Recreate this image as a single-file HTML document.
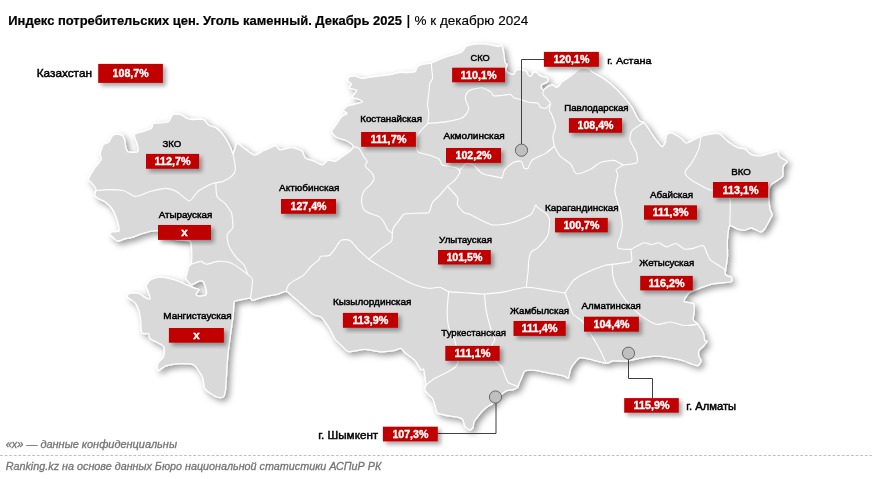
<!DOCTYPE html>
<html><head><meta charset="utf-8"><style>html,body{margin:0;padding:0;background:#fff;}svg{display:block;will-change:transform;}</style></head><body>
<svg width="872" height="479" viewBox="0 0 872 479">
<defs>
<filter id="msh" x="-10%" y="-10%" width="120%" height="120%"><feGaussianBlur in="SourceAlpha" stdDeviation="3"/><feOffset dx="2.5" dy="2.5" result="b"/><feFlood flood-color="#000" flood-opacity="0.4"/><feComposite in2="b" operator="in"/><feMerge><feMergeNode/><feMergeNode in="SourceGraphic"/></feMerge></filter>
<filter id="bsh" x="-20%" y="-30%" width="140%" height="170%"><feGaussianBlur in="SourceAlpha" stdDeviation="2"/><feOffset dx="2.5" dy="2.5" result="b"/><feFlood flood-color="#000" flood-opacity="0.35"/><feComposite in2="b" operator="in"/><feMerge><feMergeNode/><feMergeNode in="SourceGraphic"/></feMerge></filter>
</defs>
<rect width="872" height="479" fill="#fff"/>
<path d="M88.4,179.2C88.9,177.7 92.7,171.2 94.2,168.9C95.7,166.6 100.4,161.4 101.1,159.7C101.8,157.9 99.9,155.7 100.2,153.9C100.5,152.1 102.4,145.8 103.4,144.5C104.4,143.2 107.6,143.4 108.6,142.4C109.6,141.4 111.5,137.0 112.2,136.1C112.9,135.2 113.4,134.7 114.3,134.5C115.2,134.3 119.1,134.3 120.1,134.5C121.1,134.7 122.2,135.4 122.7,136.1C123.2,136.8 124.4,139.0 124.8,140.3C125.2,141.6 125.4,146.3 125.8,147.6C126.2,148.9 127.1,151.3 127.9,151.8C128.7,152.3 131.4,152.3 132.6,152.3C133.8,152.3 137.3,152.7 137.8,151.8C138.3,150.9 137.7,146.2 137.3,144.5C136.9,142.8 134.9,138.5 134.7,137.2C134.5,135.9 134.3,134.1 135.2,133.5C136.1,132.9 140.1,132.5 142.0,131.9C143.9,131.3 150.1,129.3 151.4,128.3C152.7,127.3 152.3,124.2 153.0,123.6C153.7,123.0 155.9,123.3 157.7,123.1C159.5,122.9 166.4,122.9 168.1,122.0C169.8,121.1 171.5,116.1 172.3,115.2C173.1,114.3 173.9,114.2 175.0,114.2C176.1,114.2 180.0,114.4 181.4,114.9C182.8,115.4 185.9,117.9 187.2,118.4C188.5,118.9 191.0,119.4 192.9,119.5C194.8,119.6 201.4,118.8 203.3,119.5C205.2,120.2 207.5,124.4 209.0,125.3C210.5,126.2 214.3,126.5 215.9,127.6C217.5,128.7 221.5,132.8 222.8,134.4C224.1,136.0 226.5,139.7 227.4,141.3C228.3,142.9 230.1,146.7 230.8,148.2C231.5,149.7 232.6,154.1 233.1,154.0C233.6,153.9 234.9,148.3 235.4,147.1C235.9,145.9 236.5,143.3 237.7,143.6C238.9,143.9 243.7,148.1 245.7,149.4C247.7,150.7 252.8,155.0 254.9,155.1C257.0,155.2 261.7,151.6 264.1,150.5C266.5,149.4 273.7,146.0 275.6,145.9C277.5,145.8 278.1,149.7 280.0,149.9C281.9,150.1 289.0,147.5 291.5,147.6C294.0,147.7 300.2,149.8 301.8,151.0C303.4,152.2 303.8,156.7 305.3,157.9C306.8,159.1 312.4,160.5 314.4,161.3C316.4,162.1 320.9,164.9 322.5,164.8C324.1,164.7 326.7,160.6 328.2,160.2C329.7,159.8 333.5,161.7 335.1,161.3C336.7,160.9 340.4,157.8 342.0,156.7C343.6,155.6 347.6,153.3 348.9,152.1C350.2,150.9 353.8,147.7 353.5,146.4C353.2,145.1 348.6,141.8 346.6,140.7C344.6,139.6 338.0,138.3 336.3,137.2C334.6,136.1 331.7,132.8 331.7,131.4C331.7,130.0 334.9,126.8 336.1,125.0C337.3,123.2 340.6,117.7 341.9,116.4C343.2,115.1 346.8,114.2 347.0,113.5C347.2,112.8 343.4,111.4 343.4,110.5C343.4,109.6 345.6,107.0 347.0,106.2C348.4,105.4 353.3,104.5 355.1,104.0C356.9,103.5 362.1,102.4 362.4,101.8C362.7,101.2 359.2,99.3 358.0,98.8C356.8,98.3 352.5,98.1 352.2,97.4C351.9,96.7 354.6,93.9 355.1,93.0C355.6,92.1 357.2,90.7 356.5,90.1C355.8,89.5 349.8,88.6 349.2,87.9C348.6,87.2 351.6,85.1 351.4,84.2C351.2,83.3 348.1,81.5 347.8,80.6C347.5,79.7 348.3,77.4 349.2,76.9C350.1,76.4 353.6,76.0 355.1,76.2C356.6,76.4 360.4,78.3 362.4,78.4C364.4,78.5 370.2,77.2 372.6,76.9C375.0,76.6 380.4,75.8 382.8,75.5C385.2,75.2 391.2,74.3 393.1,74.0C395.0,73.7 397.2,72.7 398.9,72.5C400.6,72.3 405.8,72.6 407.7,72.5C409.6,72.4 413.9,72.4 415.0,71.8C416.1,71.2 416.3,68.3 417.2,67.4C418.1,66.5 420.6,65.0 422.3,64.5C424.0,64.0 429.1,63.8 431.5,63.0C433.9,62.2 439.5,59.3 443.0,58.0C446.5,56.7 458.6,53.5 461.3,52.2C464.0,50.9 464.3,47.4 465.9,46.5C467.5,45.6 472.7,44.5 475.1,44.2C477.5,43.9 483.9,43.9 486.6,44.2C489.3,44.5 496.4,46.4 498.1,46.5C499.8,46.6 500.8,44.5 501.5,45.3C502.2,46.1 503.4,51.4 503.8,53.4C504.2,55.4 504.6,61.3 505.0,62.6C505.4,63.9 506.8,63.8 506.9,64.6C507.0,65.4 505.6,68.3 505.7,69.2C505.8,70.1 507.1,72.0 508.0,72.6C508.9,73.2 512.9,74.6 513.8,74.3C514.7,74.0 515.3,70.8 516.1,70.3C516.9,69.8 519.8,69.7 520.6,69.7C521.4,69.7 522.2,70.1 522.9,70.3C523.6,70.5 525.8,71.0 526.4,71.5C527.0,72.0 527.6,74.4 528.1,74.9C528.6,75.4 530.4,76.4 531.0,76.1C531.6,75.8 532.6,73.0 533.3,72.6C534.0,72.2 536.0,72.3 536.7,72.6C537.4,72.9 538.3,74.4 539.0,74.9C539.7,75.4 541.5,76.3 542.4,76.6C543.3,76.9 546.3,77.3 547.0,77.8C547.7,78.3 548.3,80.0 548.2,80.6C548.1,81.2 546.6,82.4 545.9,82.9C545.2,83.4 542.4,84.2 541.9,84.7C541.4,85.2 541.1,86.9 541.3,87.5C541.5,88.1 542.8,89.9 543.6,89.8C544.4,89.7 547.1,86.9 548.2,86.4C549.3,85.9 551.9,85.1 552.8,85.2C553.7,85.3 555.4,87.5 556.2,87.5C557.0,87.5 558.9,85.9 559.6,85.2C560.3,84.5 561.0,82.6 561.9,81.8C562.8,81.0 566.4,79.2 567.7,78.3C569.0,77.4 572.1,74.9 573.4,73.8C574.7,72.7 578.0,69.9 579.1,69.2C580.2,68.5 581.4,68.0 582.6,68.0C583.8,68.0 588.3,68.8 589.4,69.2C590.5,69.6 590.8,70.8 591.7,71.5C592.6,72.2 596.1,74.1 597.5,74.9C598.9,75.7 602.0,77.4 603.7,78.6C605.4,79.8 609.7,83.0 612.0,85.0C614.3,87.0 620.7,93.5 623.0,96.1C625.3,98.7 630.5,105.2 632.1,107.6C633.7,110.0 635.8,115.1 636.7,116.7C637.6,118.3 639.4,120.6 640.2,121.3C641.0,122.0 642.7,121.7 643.6,122.5C644.5,123.3 646.9,126.3 648.2,128.2C649.5,130.1 653.5,136.5 655.1,138.6C656.7,140.7 660.8,146.2 662.0,146.6C663.2,147.0 664.9,143.3 665.4,142.0C665.9,140.7 665.9,136.2 666.6,135.1C667.3,134.0 669.9,132.7 671.2,132.8C672.5,132.9 676.8,135.5 678.1,136.3C679.4,137.1 681.8,138.9 682.7,139.7C683.6,140.5 685.0,143.0 686.1,143.1C687.2,143.2 690.1,141.6 691.8,140.8C693.5,140.0 698.9,137.1 701.0,136.3C703.1,135.5 708.1,134.3 710.2,134.0C712.3,133.7 717.3,133.1 719.4,134.0C721.5,134.9 726.5,140.4 728.6,142.0C730.7,143.6 735.9,146.9 737.8,147.7C739.7,148.5 743.1,148.1 744.7,148.9C746.3,149.7 749.6,153.8 751.5,154.6C753.4,155.4 758.0,156.1 760.7,155.8C763.4,155.5 772.4,152.6 774.4,152.1C776.4,151.6 777.1,151.2 777.6,151.6C778.1,152.0 778.1,154.4 778.6,155.2C779.1,156.0 780.7,157.6 781.7,158.3C782.7,159.0 786.8,160.6 787.0,161.5C787.2,162.4 784.3,164.5 783.8,165.6C783.3,166.7 782.9,169.7 782.8,170.9C782.7,172.1 783.4,175.0 782.8,176.1C782.2,177.2 778.9,179.3 777.6,180.3C776.3,181.3 772.3,183.5 771.3,184.5C770.3,185.5 769.5,187.1 769.2,188.6C768.9,190.1 768.7,195.2 768.8,197.6C768.9,200.0 769.5,207.0 769.9,209.0C770.3,211.0 772.2,213.6 772.2,214.8C772.2,216.0 770.7,217.9 769.9,219.4C769.1,220.9 766.4,226.5 765.3,228.0C764.2,229.5 762.3,231.9 760.7,231.9C759.1,231.9 753.4,228.2 751.5,228.0C749.6,227.8 746.3,230.2 744.7,230.3C743.1,230.4 739.5,229.7 737.8,229.2C736.0,228.7 730.9,224.6 729.7,225.7C728.5,226.8 727.7,235.2 727.4,238.9C727.1,242.6 727.6,253.2 727.4,257.3C727.2,261.4 724.9,271.5 725.3,273.8C725.7,276.1 730.4,276.3 731.1,277.2C731.8,278.1 732.3,281.1 731.1,281.8C729.9,282.5 723.0,282.7 720.7,283.0C718.4,283.3 714.4,283.3 711.5,284.1C708.6,284.9 698.2,288.8 695.5,289.9C692.8,291.0 689.9,292.0 688.6,293.3C687.3,294.6 683.5,300.1 684.0,301.3C684.5,302.5 692.0,302.5 693.2,303.6C694.4,304.7 694.3,308.6 694.3,310.5C694.3,312.4 692.8,318.1 693.2,319.7C693.6,321.3 696.6,322.7 697.8,324.3C699.0,325.9 702.7,331.6 703.5,333.5C704.3,335.4 704.3,339.5 704.7,340.4C705.1,341.3 707.1,340.8 707.0,341.5C706.9,342.2 704.4,345.0 703.5,346.1C702.6,347.2 699.4,349.5 698.9,350.7C698.4,351.9 698.6,355.2 698.9,356.4C699.2,357.6 701.3,359.9 701.2,361.0C701.1,362.1 698.7,365.2 697.8,365.6C696.9,366.0 694.8,365.0 693.2,364.5C691.6,364.0 686.1,361.7 684.0,361.0C681.9,360.3 677.5,359.2 674.8,358.7C672.1,358.2 663.7,356.7 661.0,356.4C658.3,356.1 654.5,356.1 651.8,356.4C649.1,356.7 641.0,358.2 638.1,358.7C635.2,359.2 629.6,360.7 626.6,361.0C623.6,361.3 615.2,360.7 612.8,361.0C610.4,361.3 608.8,363.6 605.9,363.3C603.0,363.0 590.6,359.4 587.6,358.7C584.6,358.0 581.4,357.2 580.0,357.6C578.6,358.0 576.3,360.8 575.2,362.1C574.1,363.4 571.4,367.1 570.6,369.0C569.8,370.9 569.1,377.4 568.3,378.2C567.5,379.0 565.6,376.4 563.7,375.9C561.8,375.4 554.9,374.1 552.2,373.6C549.5,373.1 543.1,371.7 540.7,371.3C538.3,370.9 533.4,370.2 531.5,370.2C529.6,370.2 525.8,370.6 524.7,371.3C523.6,372.0 523.1,374.4 522.4,375.9C521.7,377.4 519.4,382.7 518.9,384.0C518.4,385.3 518.5,386.7 517.8,387.4C517.1,388.1 514.5,389.3 513.2,389.7C511.9,390.1 507.6,390.3 506.3,390.8C505.0,391.3 502.8,393.4 501.7,394.3C500.6,395.2 498.2,397.8 497.1,398.9C496.0,400.0 493.8,402.4 492.5,403.5C491.2,404.6 486.9,407.0 485.6,408.1C484.3,409.2 482.3,411.1 481.0,412.7C479.7,414.3 475.0,420.1 474.1,421.8C473.2,423.5 473.5,426.7 473.0,427.6C472.5,428.5 470.5,430.0 469.6,429.9C468.7,429.8 465.8,427.6 465.0,426.4C464.2,425.2 463.5,420.7 462.7,419.6C461.9,418.5 460.2,417.8 458.1,417.3C456.0,416.8 446.7,415.5 444.3,415.0C441.9,414.5 438.5,413.8 437.4,412.7C436.3,411.6 435.6,407.4 435.1,405.8C434.6,404.2 433.6,400.2 432.8,398.9C432.0,397.6 429.1,395.4 428.2,394.3C427.3,393.2 425.1,390.8 424.8,389.7C424.5,388.6 425.9,386.7 425.9,385.1C425.9,383.5 425.1,377.8 424.8,375.9C424.5,374.0 424.0,369.7 423.6,369.0C423.2,368.3 421.8,370.5 421.3,370.2C420.8,369.9 419.8,367.9 419.0,366.7C418.2,365.5 416.0,361.5 414.4,359.9C412.8,358.3 406.9,354.3 405.3,353.0C403.7,351.7 402.0,348.7 400.7,348.4C399.4,348.1 396.2,350.3 393.8,350.7C391.4,351.1 383.4,352.0 380.0,351.8C376.6,351.6 368.5,349.4 364.8,349.4C361.1,349.4 351.4,352.1 348.7,351.7C346.0,351.3 343.4,347.4 341.8,345.9C340.2,344.4 336.3,340.9 335.0,339.0C333.7,337.1 331.5,331.8 330.4,329.9C329.3,328.0 326.9,324.5 325.8,323.0C324.7,321.5 322.6,318.2 321.2,317.2C319.8,316.2 315.9,316.1 313.7,314.7C311.5,313.3 305.0,307.2 302.6,305.1C300.2,303.0 294.9,298.4 293.0,296.8C291.1,295.2 287.9,291.6 286.1,291.3C284.3,291.0 280.5,293.5 277.9,294.1C275.3,294.7 267.0,296.1 264.0,296.8C261.0,297.5 254.0,300.1 252.4,300.3C250.8,300.5 252.3,298.1 250.3,298.2C248.3,298.3 237.1,300.2 235.2,301.0C233.3,301.8 234.0,303.4 233.8,305.1C233.6,306.9 233.3,314.3 233.1,316.0C232.9,317.7 233.1,315.5 232.5,320.0C231.9,324.5 228.7,346.4 227.9,354.4C227.1,362.4 226.1,383.9 225.6,388.9C225.1,393.9 224.4,396.0 223.3,396.9C222.2,397.8 218.5,397.8 216.4,396.9C214.3,396.0 206.6,391.2 205.0,388.9C203.4,386.6 204.0,380.2 202.7,377.4C201.4,374.6 196.2,366.4 193.5,364.8C190.8,363.2 182.9,363.5 179.7,363.6C176.5,363.7 168.4,365.1 165.9,365.9C163.4,366.7 158.8,370.8 157.9,370.5C157.0,370.2 157.2,365.2 157.9,363.6C158.6,362.0 162.9,358.7 163.6,356.7C164.3,354.7 165.2,348.5 163.6,346.4C162.0,344.3 151.6,339.9 149.9,338.4C148.2,336.9 149.6,334.5 148.7,333.8C147.8,333.1 142.7,334.2 141.8,332.6C140.9,331.0 141.0,322.6 140.7,320.0C140.3,317.4 139.5,312.0 138.8,310.0C138.1,308.0 136.3,304.2 135.0,302.7C133.7,301.2 128.2,298.2 127.5,297.1C126.8,296.0 128.1,293.7 129.4,293.3C130.7,292.9 137.1,292.9 138.8,293.3C140.6,293.7 143.1,296.4 144.4,297.1C145.7,297.8 149.7,299.6 150.1,298.9C150.5,298.2 148.6,292.9 148.2,291.4C147.8,289.9 146.1,287.1 146.3,285.8C146.5,284.5 148.8,281.2 150.1,280.2C151.4,279.2 155.4,277.5 157.6,277.3C159.8,277.1 166.3,277.8 168.9,278.3C171.5,278.8 177.4,280.9 180.2,282.0C183.0,283.1 191.1,286.8 193.3,287.7C195.5,288.6 198.6,288.7 198.9,289.5C199.2,290.3 196.1,293.4 196.1,294.2C196.1,295.0 197.8,296.0 198.9,296.1C200.0,296.2 204.6,295.7 205.5,295.2C206.4,294.7 206.7,292.9 206.5,291.4C206.3,289.9 204.5,283.2 203.6,282.0C202.7,280.8 200.4,280.8 199.0,281.1C197.6,281.4 192.9,285.1 191.4,284.8C189.9,284.5 186.3,279.5 185.8,278.3C185.3,277.1 186.4,275.8 186.7,274.5C187.0,273.2 188.1,268.3 188.6,267.0C189.1,265.7 191.1,265.6 191.4,263.2C191.7,260.8 191.6,248.9 191.4,246.3C191.2,243.7 191.2,241.5 189.5,240.7C187.8,239.9 179.8,240.8 176.4,239.7C173.0,238.6 162.9,232.0 160.0,231.0C157.1,230.0 154.1,230.9 151.9,231.2C149.7,231.5 143.6,233.2 141.3,233.9C139.0,234.6 134.2,236.9 132.4,237.4C130.6,237.9 127.7,238.1 126.0,238.5C124.3,238.9 119.2,241.1 117.9,241.1C116.6,241.1 115.4,239.7 114.5,238.9C113.6,238.1 110.2,235.1 109.9,234.3C109.6,233.5 111.1,232.4 112.2,232.0C113.3,231.6 118.4,231.9 119.1,230.8C119.8,229.7 118.3,224.5 117.9,222.8C117.5,221.1 116.3,217.5 115.6,215.9C114.9,214.3 113.4,210.6 112.2,209.0C111.0,207.4 106.9,203.3 105.3,202.1C103.7,200.9 99.6,199.4 98.4,198.6C97.2,197.8 95.2,196.3 94.9,195.2C94.6,194.1 96.1,190.3 96.1,189.4C96.1,188.5 95.6,188.0 94.9,187.1C94.2,186.2 91.1,182.3 90.3,181.4C89.5,180.5 87.9,180.7 88.4,179.2Z" fill="#d9d9d9" stroke="#fff" stroke-width="1.3" stroke-linejoin="round" filter="url(#msh)"/>
<path d="M95.3,190.7C96.8,190.6 104.7,189.6 108.0,189.6C111.3,189.6 120.8,189.9 124.0,190.7C127.2,191.5 132.5,196.3 135.5,196.4C138.5,196.5 145.8,192.7 149.3,191.8C152.8,190.9 162.2,188.4 165.4,188.4C168.6,188.4 174.0,190.3 176.8,191.8C179.6,193.3 187.1,201.0 189.5,201.0C191.9,201.0 195.2,193.7 197.5,191.8C199.8,189.9 206.9,186.1 209.0,185.0C211.1,183.9 215.1,183.0 215.9,182.7" fill="none" stroke="#fff" stroke-width="1.1" stroke-linejoin="round" stroke-linecap="round"/>
<path d="M233.1,154.0C233.4,155.7 235.5,166.4 235.4,168.9C235.3,171.4 233.5,174.3 232.0,175.8C230.5,177.3 224.7,180.7 222.8,181.5C220.9,182.3 216.7,182.6 215.9,182.7" fill="none" stroke="#fff" stroke-width="1.1" stroke-linejoin="round" stroke-linecap="round"/>
<path d="M215.9,182.7C216.0,184.3 215.9,194.0 217.0,196.4C218.1,198.8 223.6,201.7 225.1,203.3C226.6,204.9 228.9,208.8 229.7,210.0C230.5,211.2 231.3,211.3 231.7,213.3C232.1,215.3 233.3,225.0 232.8,227.5C232.3,230.0 227.5,232.8 227.1,235.0C226.7,237.2 227.9,243.7 229.0,246.3C230.1,248.9 234.7,255.4 236.5,257.6C238.3,259.8 242.8,263.1 244.1,265.1C245.4,267.1 247.4,273.4 247.8,274.5" fill="none" stroke="#fff" stroke-width="1.1" stroke-linejoin="round" stroke-linecap="round"/>
<path d="M191.4,264.2C192.5,263.9 199.0,261.4 200.8,261.4C202.6,261.4 204.5,264.2 206.5,264.2C208.5,264.2 215.1,261.6 217.7,261.4C220.3,261.2 226.8,261.8 229.0,262.3C231.2,262.8 234.3,264.7 236.5,266.1C238.7,267.5 246.5,273.5 247.8,274.5" fill="none" stroke="#fff" stroke-width="1.1" stroke-linejoin="round" stroke-linecap="round"/>
<path d="M247.8,274.5C248.3,275.0 251.9,277.1 252.4,278.9C252.9,280.7 251.9,287.6 251.7,289.9C251.5,292.2 250.5,297.2 250.3,298.2" fill="none" stroke="#fff" stroke-width="1.1" stroke-linejoin="round" stroke-linecap="round"/>
<path d="M286.1,291.3C286.4,290.5 287.6,285.8 288.9,284.4C290.2,283.0 295.3,280.0 297.1,278.9C298.9,277.8 302.4,276.2 304.0,274.8C305.6,273.4 309.1,268.3 310.9,266.5C312.7,264.7 318.1,260.8 319.2,259.6C320.3,258.4 319.4,256.7 320.6,256.2C321.8,255.7 327.7,256.3 329.4,255.4C331.1,254.5 333.7,250.6 335.0,248.8C336.3,247.1 338.9,241.4 340.7,240.4C342.4,239.4 348.0,239.4 350.0,240.4C352.0,241.4 355.4,246.6 357.6,248.8C359.8,251.0 367.5,258.0 368.8,259.2" fill="none" stroke="#fff" stroke-width="1.1" stroke-linejoin="round" stroke-linecap="round"/>
<path d="M353.5,146.4C354.2,146.7 358.0,147.5 359.2,148.7C360.4,149.9 362.9,155.2 363.8,156.7C364.7,158.2 367.2,160.2 367.3,161.3C367.4,162.4 364.5,164.6 365.0,165.9C365.5,167.2 370.7,171.3 371.8,172.8C372.9,174.3 374.2,177.3 374.1,178.6C374.0,179.9 371.9,182.8 370.7,184.3C369.5,185.8 364.9,189.3 363.8,191.2C362.7,193.1 361.5,198.3 361.5,200.4C361.5,202.5 362.6,208.0 363.8,209.6C365.0,211.2 370.1,213.3 371.8,214.1C373.5,214.9 377.4,215.6 378.7,216.4C380.0,217.2 382.2,219.4 383.3,221.0C384.4,222.6 386.8,228.6 387.9,230.0C388.9,231.4 391.8,232.6 392.3,232.9" fill="none" stroke="#fff" stroke-width="1.1" stroke-linejoin="round" stroke-linecap="round"/>
<path d="M392.3,232.9C392.2,233.9 392.6,239.6 391.4,241.3C390.2,243.1 384.6,245.8 382.0,247.9C379.4,250.0 370.3,257.9 368.8,259.2" fill="none" stroke="#fff" stroke-width="1.1" stroke-linejoin="round" stroke-linecap="round"/>
<path d="M392.3,232.9C392.4,232.4 392.4,229.6 393.2,228.2C394.0,226.8 397.6,222.3 398.9,220.7C400.2,219.1 402.0,215.0 404.5,214.1C407.0,213.2 417.2,213.3 420.0,213.1C422.8,212.9 427.3,213.7 428.8,212.5C430.2,211.3 431.2,204.5 432.5,202.5C433.8,200.5 438.2,196.9 440.0,195.0C441.8,193.1 445.8,188.0 447.5,186.2C449.2,184.5 453.5,181.6 455.0,180.0C456.5,178.4 459.4,173.4 460.0,172.5" fill="none" stroke="#fff" stroke-width="1.1" stroke-linejoin="round" stroke-linecap="round"/>
<path d="M368.8,259.2C370.3,260.2 378.5,265.5 382.0,267.6C385.5,269.7 395.2,275.0 398.9,277.0C402.6,279.0 410.4,283.2 413.9,284.5C417.4,285.8 425.9,288.0 428.9,288.3C431.9,288.6 437.7,286.9 440.0,287.3C442.3,287.7 445.2,290.9 448.7,291.6C452.2,292.3 465.4,292.8 469.6,293.1C473.8,293.4 480.3,294.2 484.5,294.0C488.7,293.8 500.5,292.4 505.4,291.6C510.3,290.8 521.4,287.4 526.3,287.2C531.2,287.0 542.7,289.4 547.2,290.1C551.7,290.8 562.9,292.7 565.0,293.0" fill="none" stroke="#fff" stroke-width="1.1" stroke-linejoin="round" stroke-linecap="round"/>
<path d="M427.7,123.4C426.5,124.8 418.7,131.9 417.5,135.1C416.3,138.3 416.2,148.9 417.5,151.2C418.8,153.5 426.3,154.1 428.8,155.0C431.2,155.9 437.1,157.6 438.8,158.8C440.4,159.9 440.6,164.0 442.5,165.0C444.4,166.0 453.1,167.0 455.0,167.5C456.9,168.0 458.2,168.8 458.8,169.4C459.3,170.0 459.9,172.1 460.0,172.5" fill="none" stroke="#fff" stroke-width="1.1" stroke-linejoin="round" stroke-linecap="round"/>
<path d="M431.5,63.0C431.5,63.8 431.7,67.8 431.8,69.6C431.9,71.4 432.8,76.7 432.5,78.4C432.2,80.1 430.0,82.5 429.6,84.2C429.2,85.9 429.2,90.6 428.9,93.0C428.6,95.4 427.4,102.3 427.4,104.7C427.4,107.1 428.9,111.3 428.9,113.5C428.9,115.7 427.8,122.2 427.7,123.4" fill="none" stroke="#fff" stroke-width="1.1" stroke-linejoin="round" stroke-linecap="round"/>
<path d="M427.7,123.4C429.8,123.2 441.2,122.6 445.3,121.9C449.4,121.2 460.1,119.0 462.8,117.5C465.5,116.0 468.4,110.8 468.7,108.8C469.0,106.8 466.0,101.6 465.7,100.0C465.4,98.4 465.3,95.9 465.9,94.7C466.5,93.5 468.6,90.9 470.5,90.1C472.4,89.3 479.6,87.5 482.0,87.8C484.4,88.1 489.9,91.5 491.2,92.4C492.5,93.3 492.5,95.4 493.5,95.8C494.5,96.2 498.0,95.8 500.0,95.6C502.0,95.4 508.7,94.1 510.3,94.4C511.9,94.7 512.6,97.2 513.8,97.8C515.0,98.4 518.7,99.1 520.6,99.6C522.5,100.1 527.8,102.0 529.8,102.4C531.8,102.8 536.6,102.5 537.8,103.0C539.0,103.5 539.2,106.4 540.1,107.0C541.0,107.6 544.7,108.6 545.9,108.2C547.1,107.8 550.0,104.1 550.5,103.6" fill="none" stroke="#fff" stroke-width="1.1" stroke-linejoin="round" stroke-linecap="round"/>
<path d="M543.6,89.8C543.5,90.3 542.5,93.2 543.0,94.4C543.5,95.6 547.3,99.0 548.2,100.1C549.1,101.2 550.4,102.4 550.5,103.6C550.6,104.8 549.1,108.6 549.3,110.0C549.5,111.4 551.3,113.4 552.0,115.4C552.7,117.4 555.4,124.3 555.5,126.8C555.6,129.3 553.0,134.2 552.9,136.5C552.8,138.8 554.1,145.1 554.3,146.2" fill="none" stroke="#fff" stroke-width="1.1" stroke-linejoin="round" stroke-linecap="round"/>
<path d="M460.0,170.0C460.7,169.3 464.6,164.3 466.2,163.8C467.9,163.2 471.9,163.8 473.8,165.0C475.6,166.2 479.4,172.3 482.5,173.8C485.6,175.2 497.6,177.0 499.9,177.5C502.2,178.0 501.4,178.8 502.0,177.9C502.6,177.0 503.4,171.4 504.7,169.6C506.0,167.8 511.1,163.7 513.0,162.7C514.9,161.7 519.9,160.7 521.2,161.3C522.5,161.9 523.2,167.4 524.0,168.2C524.8,169.0 527.1,169.2 528.1,168.2C529.1,167.2 530.2,161.8 532.3,160.0C534.4,158.2 543.4,154.7 546.0,153.1C548.6,151.5 553.3,147.0 554.3,146.2" fill="none" stroke="#fff" stroke-width="1.1" stroke-linejoin="round" stroke-linecap="round"/>
<path d="M447.5,186.2C448.7,187.6 456.3,195.3 457.5,197.5C458.7,199.7 456.8,203.2 457.5,205.0C458.2,206.8 462.3,211.4 463.8,212.5C465.2,213.6 466.8,213.1 470.1,214.5C473.4,215.9 486.9,223.9 491.9,224.8C496.9,225.7 508.1,223.7 512.6,222.5C517.1,221.3 528.2,216.5 530.9,214.5C533.6,212.5 534.7,206.1 535.5,205.3C536.3,204.5 536.5,206.5 537.8,207.6C539.1,208.7 545.7,213.2 547.0,214.5C548.3,215.8 549.0,217.5 549.3,219.0C549.6,220.5 549.5,225.2 549.3,227.2C549.1,229.2 548.6,233.9 547.3,236.3C546.0,238.7 539.7,245.9 537.8,247.8C535.9,249.7 532.0,250.7 530.9,252.3C529.8,253.9 528.9,259.4 528.6,261.5C528.3,263.6 528.5,267.0 528.2,270.0C527.9,273.0 526.5,285.2 526.3,287.2" fill="none" stroke="#fff" stroke-width="1.1" stroke-linejoin="round" stroke-linecap="round"/>
<path d="M554.3,146.2C554.9,147.3 557.9,153.7 559.8,155.8C561.7,157.9 568.9,162.0 570.8,164.1C572.7,166.2 574.1,173.1 576.4,173.7C578.7,174.3 587.3,170.9 590.1,169.6C592.9,168.3 597.2,163.8 600.0,162.7C602.8,161.6 611.1,160.1 613.8,160.4C616.5,160.7 621.9,164.5 623.0,165.0" fill="none" stroke="#fff" stroke-width="1.1" stroke-linejoin="round" stroke-linecap="round"/>
<path d="M643.6,122.5C642.3,123.4 633.7,128.5 632.1,130.5C630.5,132.5 629.6,137.6 629.9,139.7C630.2,141.8 633.6,147.3 634.4,148.9C635.2,150.5 636.4,151.9 636.7,153.5C637.0,155.1 638.3,161.4 636.7,162.7C635.1,164.0 624.6,164.7 623.0,165.0" fill="none" stroke="#fff" stroke-width="1.1" stroke-linejoin="round" stroke-linecap="round"/>
<path d="M623.0,165.0C622.2,165.6 616.7,168.8 616.1,170.0C615.5,171.2 617.8,172.6 617.7,175.1C617.6,177.6 614.6,187.4 614.9,191.6C615.2,195.8 619.5,207.0 620.4,210.9C621.3,214.8 622.3,222.0 622.3,225.0C622.3,228.0 620.9,234.2 620.4,236.3C619.9,238.4 617.8,241.4 617.6,242.8C617.4,244.2 617.0,247.7 618.5,248.5C620.0,249.3 629.4,249.3 630.8,249.4" fill="none" stroke="#fff" stroke-width="1.1" stroke-linejoin="round" stroke-linecap="round"/>
<path d="M630.8,249.4C632.3,248.6 641.5,243.3 643.9,242.8C646.3,242.3 649.6,244.7 651.4,244.7C653.1,244.7 657.1,242.5 658.9,242.8C660.7,243.1 664.6,246.8 666.6,246.9C668.6,247.0 673.7,243.2 675.8,243.5C677.9,243.8 682.9,248.7 685.0,249.2C687.1,249.7 692.0,248.5 694.1,248.1C696.2,247.7 701.4,244.5 703.3,245.8C705.2,247.1 707.8,256.9 710.2,259.6C712.6,262.3 722.2,267.0 724.0,268.7C725.8,270.4 725.1,273.2 725.3,273.8" fill="none" stroke="#fff" stroke-width="1.1" stroke-linejoin="round" stroke-linecap="round"/>
<path d="M630.8,249.4C630.9,250.7 632.4,259.2 631.7,260.7C631.0,262.2 627.4,262.2 625.1,262.6C622.8,263.0 614.4,264.1 612.0,264.4C609.6,264.7 607.3,264.5 604.5,265.4C601.7,266.3 591.1,270.4 587.6,272.0C584.1,273.6 576.6,277.8 574.4,279.5C572.2,281.2 569.9,285.4 568.8,287.0C567.7,288.6 565.4,292.3 565.0,293.0" fill="none" stroke="#fff" stroke-width="1.1" stroke-linejoin="round" stroke-linecap="round"/>
<path d="M565.0,293.0C565.5,294.3 568.1,301.6 569.0,304.0C569.9,306.4 571.4,311.9 573.0,314.0C574.6,316.1 580.8,319.4 583.0,322.0C585.2,324.6 590.0,332.7 592.0,336.0C594.0,339.3 598.4,346.9 600.0,350.0C601.6,353.1 605.3,361.5 606.0,363.0" fill="none" stroke="#fff" stroke-width="1.1" stroke-linejoin="round" stroke-linecap="round"/>
<path d="M612.0,264.4C612.1,265.7 612.5,273.3 612.9,275.7C613.3,278.1 614.7,282.9 615.7,285.1C616.7,287.3 619.9,292.3 621.4,294.5C622.9,296.7 626.7,301.5 628.9,303.9C631.1,306.3 637.2,312.7 640.4,315.1C643.6,317.5 652.9,323.5 656.4,324.3C659.9,325.1 667.0,321.9 670.2,322.0C673.4,322.1 680.8,325.1 684.0,325.4C687.2,325.7 696.2,324.4 697.8,324.3" fill="none" stroke="#fff" stroke-width="1.1" stroke-linejoin="round" stroke-linecap="round"/>
<path d="M701.0,136.3C700.7,137.8 699.8,145.8 698.7,148.9C697.6,152.0 693.4,160.0 691.8,162.7C690.2,165.4 685.3,169.9 685.0,171.8C684.7,173.7 687.6,177.1 689.5,178.7C691.4,180.3 698.6,184.3 701.0,185.6C703.4,186.9 708.1,189.4 710.2,190.0C712.3,190.6 717.1,189.8 719.4,190.7C721.7,191.6 728.5,193.4 729.7,197.6C730.9,201.8 729.7,223.0 729.7,226.3" fill="none" stroke="#fff" stroke-width="1.1" stroke-linejoin="round" stroke-linecap="round"/>
<path d="M484.5,294.0C484.7,295.8 485.3,305.7 486.0,309.6C486.7,313.5 489.4,324.0 490.4,327.5C491.4,331.0 494.7,337.3 494.9,339.4C495.1,341.5 491.9,343.0 491.9,345.4C491.9,347.8 493.7,357.4 494.8,359.9C495.9,362.4 500.5,364.8 501.7,366.7C502.9,368.6 504.3,374.0 505.1,375.9C505.9,377.8 507.1,381.6 508.6,382.8C510.1,384.0 516.7,385.9 517.8,386.3" fill="none" stroke="#fff" stroke-width="1.1" stroke-linejoin="round" stroke-linecap="round"/>
<path d="M448.7,291.6C448.5,293.7 447.2,305.4 447.2,309.6C447.2,313.8 447.8,324.0 448.7,327.5C449.6,331.0 453.5,335.6 454.6,339.4C455.7,343.2 458.0,356.7 458.1,359.9C458.2,363.1 456.9,365.4 455.8,366.7C454.7,368.0 451.3,370.0 448.9,371.3C446.5,372.6 437.8,376.6 435.1,378.2C432.4,379.8 427.0,384.3 425.9,385.1" fill="none" stroke="#fff" stroke-width="1.1" stroke-linejoin="round" stroke-linecap="round"/>
<polyline points="544,59.5 521.5,59.5 521.5,144" fill="none" stroke="#404040" stroke-width="1"/>
<polyline points="628.5,359 628.5,378.5 652.5,378.5 652.5,398" fill="none" stroke="#404040" stroke-width="1"/>
<polyline points="496,402.5 496,433.5 437.4,433.5" fill="none" stroke="#404040" stroke-width="1"/>
<circle cx="521.5" cy="150.2" r="6.1" fill="#bfbfbf" stroke="#666" stroke-width="1"/>
<circle cx="628.5" cy="353.2" r="6.1" fill="#bfbfbf" stroke="#666" stroke-width="1"/>
<circle cx="495.5" cy="397" r="6.1" fill="#bfbfbf" stroke="#666" stroke-width="1"/>
<rect x="98.2" y="63.9" width="64.7" height="19.0" fill="#c00000" filter="url(#bsh)"/>
<text x="112.6" y="77.1" font-family="Liberation Sans" font-weight="bold" font-size="10.4" fill="#fff" stroke="#fff" stroke-width="0.35" textLength="36.0" lengthAdjust="spacingAndGlyphs">108,7%</text>
<rect x="146" y="153.9" width="53.1" height="14.9" fill="#c00000" filter="url(#bsh)"/>
<text x="154.6" y="165.1" font-family="Liberation Sans" font-weight="bold" font-size="10.4" fill="#fff" stroke="#fff" stroke-width="0.35" textLength="36.0" lengthAdjust="spacingAndGlyphs">112,7%</text>
<rect x="158" y="225" width="53.0" height="14.9" fill="#c00000" filter="url(#bsh)"/>
<text x="184.5" y="235.5" font-family="Liberation Sans" font-weight="bold" font-size="11.5" fill="#fff" stroke="#fff" stroke-width="0.4" text-anchor="middle">x</text>
<rect x="168.9" y="328" width="55.0" height="14.7" fill="#c00000" filter="url(#bsh)"/>
<text x="196.4" y="338.5" font-family="Liberation Sans" font-weight="bold" font-size="11.5" fill="#fff" stroke="#fff" stroke-width="0.4" text-anchor="middle">x</text>
<rect x="281" y="199" width="55.0" height="14.8" fill="#c00000" filter="url(#bsh)"/>
<text x="290.5" y="210.1" font-family="Liberation Sans" font-weight="bold" font-size="10.4" fill="#fff" stroke="#fff" stroke-width="0.35" textLength="36.0" lengthAdjust="spacingAndGlyphs">127,4%</text>
<rect x="361.1" y="132" width="54.8" height="14.8" fill="#c00000" filter="url(#bsh)"/>
<text x="370.5" y="143.1" font-family="Liberation Sans" font-weight="bold" font-size="10.4" fill="#fff" stroke="#fff" stroke-width="0.35" textLength="36.0" lengthAdjust="spacingAndGlyphs">111,7%</text>
<rect x="452.1" y="67.7" width="52.9" height="14.6" fill="#c00000" filter="url(#bsh)"/>
<text x="460.6" y="78.7" font-family="Liberation Sans" font-weight="bold" font-size="10.4" fill="#fff" stroke="#fff" stroke-width="0.35" textLength="36.0" lengthAdjust="spacingAndGlyphs">110,1%</text>
<rect x="543.9" y="51.9" width="55.0" height="14.9" fill="#c00000" filter="url(#bsh)"/>
<text x="553.4" y="63.0" font-family="Liberation Sans" font-weight="bold" font-size="10.4" fill="#fff" stroke="#fff" stroke-width="0.35" textLength="36.0" lengthAdjust="spacingAndGlyphs">120,1%</text>
<rect x="446" y="148" width="55.0" height="14.9" fill="#c00000" filter="url(#bsh)"/>
<text x="455.5" y="159.1" font-family="Liberation Sans" font-weight="bold" font-size="10.4" fill="#fff" stroke="#fff" stroke-width="0.35" textLength="36.0" lengthAdjust="spacingAndGlyphs">102,2%</text>
<rect x="568.9" y="118.1" width="53.1" height="14.7" fill="#c00000" filter="url(#bsh)"/>
<text x="577.5" y="129.2" font-family="Liberation Sans" font-weight="bold" font-size="10.4" fill="#fff" stroke="#fff" stroke-width="0.35" textLength="36.0" lengthAdjust="spacingAndGlyphs">108,4%</text>
<rect x="713" y="182" width="55.0" height="15.7" fill="#c00000" filter="url(#bsh)"/>
<text x="722.5" y="193.5" font-family="Liberation Sans" font-weight="bold" font-size="10.4" fill="#fff" stroke="#fff" stroke-width="0.35" textLength="36.0" lengthAdjust="spacingAndGlyphs">113,1%</text>
<rect x="644" y="205.3" width="53.0" height="14.4" fill="#c00000" filter="url(#bsh)"/>
<text x="652.5" y="216.2" font-family="Liberation Sans" font-weight="bold" font-size="10.4" fill="#fff" stroke="#fff" stroke-width="0.35" textLength="36.0" lengthAdjust="spacingAndGlyphs">111,3%</text>
<rect x="555" y="217.9" width="52.8" height="14.5" fill="#c00000" filter="url(#bsh)"/>
<text x="563.4" y="228.8" font-family="Liberation Sans" font-weight="bold" font-size="10.4" fill="#fff" stroke="#fff" stroke-width="0.35" textLength="36.0" lengthAdjust="spacingAndGlyphs">100,7%</text>
<rect x="438" y="250" width="52.8" height="14.5" fill="#c00000" filter="url(#bsh)"/>
<text x="446.4" y="260.9" font-family="Liberation Sans" font-weight="bold" font-size="10.4" fill="#fff" stroke="#fff" stroke-width="0.35" textLength="36.0" lengthAdjust="spacingAndGlyphs">101,5%</text>
<rect x="342.9" y="312.9" width="55.1" height="14.9" fill="#c00000" filter="url(#bsh)"/>
<text x="352.4" y="324.1" font-family="Liberation Sans" font-weight="bold" font-size="10.4" fill="#fff" stroke="#fff" stroke-width="0.35" textLength="36.0" lengthAdjust="spacingAndGlyphs">113,9%</text>
<rect x="445.3" y="345.9" width="54.4" height="14.9" fill="#c00000" filter="url(#bsh)"/>
<text x="454.5" y="357.1" font-family="Liberation Sans" font-weight="bold" font-size="10.4" fill="#fff" stroke="#fff" stroke-width="0.35" textLength="36.0" lengthAdjust="spacingAndGlyphs">111,1%</text>
<rect x="513.5" y="321" width="52.2" height="14.9" fill="#c00000" filter="url(#bsh)"/>
<text x="521.6" y="332.1" font-family="Liberation Sans" font-weight="bold" font-size="10.4" fill="#fff" stroke="#fff" stroke-width="0.35" textLength="36.0" lengthAdjust="spacingAndGlyphs">111,4%</text>
<rect x="584" y="316.7" width="54.9" height="15.0" fill="#c00000" filter="url(#bsh)"/>
<text x="593.5" y="327.9" font-family="Liberation Sans" font-weight="bold" font-size="10.4" fill="#fff" stroke="#fff" stroke-width="0.35" textLength="36.0" lengthAdjust="spacingAndGlyphs">104,4%</text>
<rect x="640.2" y="275.9" width="52.6" height="14.5" fill="#c00000" filter="url(#bsh)"/>
<text x="648.5" y="286.8" font-family="Liberation Sans" font-weight="bold" font-size="10.4" fill="#fff" stroke="#fff" stroke-width="0.35" textLength="36.0" lengthAdjust="spacingAndGlyphs">116,2%</text>
<rect x="624.2" y="398.1" width="54.6" height="14.6" fill="#c00000" filter="url(#bsh)"/>
<text x="633.5" y="409.1" font-family="Liberation Sans" font-weight="bold" font-size="10.4" fill="#fff" stroke="#fff" stroke-width="0.35" textLength="36.0" lengthAdjust="spacingAndGlyphs">115,9%</text>
<rect x="382.9" y="426.7" width="54.9" height="14.7" fill="#c00000" filter="url(#bsh)"/>
<text x="392.4" y="437.7" font-family="Liberation Sans" font-weight="bold" font-size="10.4" fill="#fff" stroke="#fff" stroke-width="0.35" textLength="36.0" lengthAdjust="spacingAndGlyphs">107,3%</text>
<text x="36.7" y="76.8" font-family="Liberation Sans" font-size="10.70" fill="#000" stroke="#000" stroke-width="0.45" textLength="55.3" lengthAdjust="spacingAndGlyphs">Казахстан</text>
<text x="162.4" y="147.0" font-family="Liberation Sans" font-size="9.35" fill="#000" stroke="#000" stroke-width="0.45" textLength="18.8" lengthAdjust="spacingAndGlyphs">ЗКО</text>
<text x="158.7" y="217.8" font-family="Liberation Sans" font-size="8.94" fill="#000" stroke="#000" stroke-width="0.45" textLength="53.5" lengthAdjust="spacingAndGlyphs">Атырауская</text>
<text x="163.3" y="319.0" font-family="Liberation Sans" font-size="9.35" fill="#000" stroke="#000" stroke-width="0.45" textLength="68.4" lengthAdjust="spacingAndGlyphs">Мангистауская</text>
<text x="279.1" y="191.2" font-family="Liberation Sans" font-size="9.89" fill="#000" stroke="#000" stroke-width="0.45" textLength="60.3" lengthAdjust="spacingAndGlyphs">Актюбинская</text>
<text x="360.3" y="121.9" font-family="Liberation Sans" font-size="8.94" fill="#000" stroke="#000" stroke-width="0.45" textLength="61.6" lengthAdjust="spacingAndGlyphs">Костанайская</text>
<text x="470.5" y="61.4" font-family="Liberation Sans" font-size="9.21" fill="#000" stroke="#000" stroke-width="0.45" textLength="19.1" lengthAdjust="spacingAndGlyphs">СКО</text>
<text x="607.2" y="63.9" font-family="Liberation Sans" font-size="9.75" fill="#000" stroke="#000" stroke-width="0.45" textLength="44.4" lengthAdjust="spacingAndGlyphs">г. Астана</text>
<text x="443.5" y="138.6" font-family="Liberation Sans" font-size="9.21" fill="#000" stroke="#000" stroke-width="0.45" textLength="61.2" lengthAdjust="spacingAndGlyphs">Акмолинская</text>
<text x="564.2" y="110.6" font-family="Liberation Sans" font-size="8.53" fill="#000" stroke="#000" stroke-width="0.45" textLength="64.4" lengthAdjust="spacingAndGlyphs">Павлодарская</text>
<text x="731.3" y="174.9" font-family="Liberation Sans" font-size="9.35" fill="#000" stroke="#000" stroke-width="0.45" textLength="19.6" lengthAdjust="spacingAndGlyphs">ВКО</text>
<text x="649.9" y="197.7" font-family="Liberation Sans" font-size="9.75" fill="#000" stroke="#000" stroke-width="0.45" textLength="43.3" lengthAdjust="spacingAndGlyphs">Абайская</text>
<text x="544.9" y="211.1" font-family="Liberation Sans" font-size="9.35" fill="#000" stroke="#000" stroke-width="0.45" textLength="73.7" lengthAdjust="spacingAndGlyphs">Карагандинская</text>
<text x="439.1" y="243.2" font-family="Liberation Sans" font-size="9.35" fill="#000" stroke="#000" stroke-width="0.45" textLength="52.9" lengthAdjust="spacingAndGlyphs">Улытауская</text>
<text x="332.9" y="304.9" font-family="Liberation Sans" font-size="9.35" fill="#000" stroke="#000" stroke-width="0.45" textLength="78.4" lengthAdjust="spacingAndGlyphs">Кызылординская</text>
<text x="441.3" y="335.9" font-family="Liberation Sans" font-size="9.75" fill="#000" stroke="#000" stroke-width="0.45" textLength="64.7" lengthAdjust="spacingAndGlyphs">Туркестанская</text>
<text x="510.1" y="314.4" font-family="Liberation Sans" font-size="8.94" fill="#000" stroke="#000" stroke-width="0.45" textLength="58.9" lengthAdjust="spacingAndGlyphs">Жамбылская</text>
<text x="639.3" y="266.3" font-family="Liberation Sans" font-size="9.35" fill="#000" stroke="#000" stroke-width="0.45" textLength="54.9" lengthAdjust="spacingAndGlyphs">Жетысуская</text>
<text x="581.6" y="308.6" font-family="Liberation Sans" font-size="9.35" fill="#000" stroke="#000" stroke-width="0.45" textLength="59.3" lengthAdjust="spacingAndGlyphs">Алматинская</text>
<text x="686.3" y="409.8" font-family="Liberation Sans" font-size="10.16" fill="#000" stroke="#000" stroke-width="0.45" textLength="49.8" lengthAdjust="spacingAndGlyphs">г. Алматы</text>
<text x="318.2" y="438.9" font-family="Liberation Sans" font-size="10.84" fill="#000" stroke="#000" stroke-width="0.45" textLength="60.0" lengthAdjust="spacingAndGlyphs">г. Шымкент</text>
<text x="8.3" y="25.1" font-family="Liberation Sans" font-weight="bold" font-size="13" fill="#000" stroke="#000" stroke-width="0.2" textLength="393.6" lengthAdjust="spacingAndGlyphs">Индекс потребительских цен. Уголь каменный. Декабрь 2025</text>
<rect x="407.6" y="15" width="1.6" height="13" fill="#000"/>
<text x="414.6" y="25.1" font-family="Liberation Sans" font-size="13" fill="#000" stroke="#000" stroke-width="0.15" textLength="113.6" lengthAdjust="spacingAndGlyphs">% к декабрю 2024</text>
<text x="5.7" y="447.6" font-family="Liberation Sans" font-style="italic" font-size="10.6" fill="#757575" stroke="#757575" stroke-width="0.3" textLength="171.3" lengthAdjust="spacingAndGlyphs">«х» — данные конфиденциальны</text>
<line x1="0" y1="455.5" x2="872" y2="455.5" stroke="#c0c0c0" stroke-width="1" stroke-dasharray="2.8,1.8"/>
<text x="5.7" y="469.8" font-family="Liberation Sans" font-style="italic" font-size="10.8" fill="#757575" stroke="#757575" stroke-width="0.3" textLength="375.6" lengthAdjust="spacingAndGlyphs">Ranking.kz на основе данных Бюро национальной статистики АСПиР РК</text>
</svg>
</body></html>
